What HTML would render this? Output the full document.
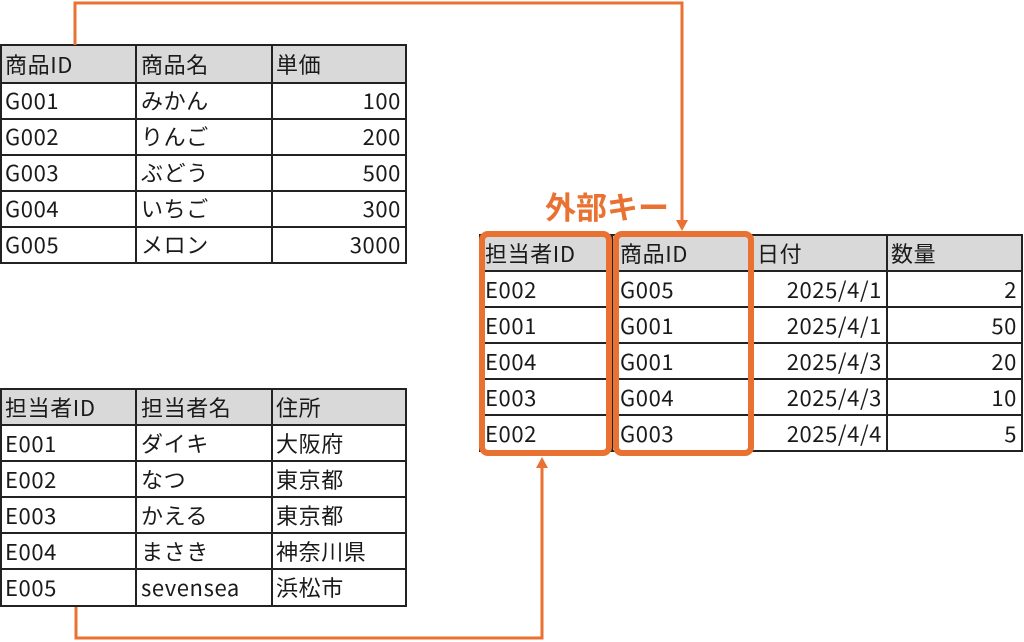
<!DOCTYPE html>
<html><head><meta charset="utf-8"><style>
html,body{margin:0;padding:0;background:#fff;width:1024px;height:642px;overflow:hidden}
text{font-family:"Noto Sans CJK JP","Liberation Sans",sans-serif;font-size:22px;letter-spacing:0.6px;fill:#1a1a1a}
</style></head><body>
<svg width="1024" height="642" xmlns="http://www.w3.org/2000/svg">
<g stroke="#222" stroke-width="2" fill="none">
<rect x="1" y="45" width="405" height="38" fill="#d9d9d9"/>
<rect x="1" y="45" width="405" height="218"/>
<path d="M1 83H406M1 119H406M1 155H406M1 191H406M1 227H406M136 45V263M272 45V263"/>
<rect x="1" y="389" width="405" height="36" fill="#d9d9d9"/>
<rect x="1" y="389" width="405" height="217"/>
<path d="M1 425H406M1 461H406M1 497H406M1 533H406M1 569H406M136 389V606M272 389V606"/>
<rect x="480" y="235" width="542" height="36" fill="#d9d9d9"/>
<rect x="480" y="235" width="542" height="216"/>
<path d="M480 271H1022M480 307H1022M480 343H1022M480 379H1022M480 415H1022M612 235V451M752 235V451M887 235V451"/>
</g>
<g>
<text x="5" y="73">商品ID</text><text x="141" y="73">商品名</text><text x="276" y="73">単価</text>
<text x="5" y="109">G001</text><text x="141" y="109">みかん</text><text x="401" y="109" text-anchor="end">100</text>
<text x="5" y="145">G002</text><text x="141" y="145">りんご</text><text x="401" y="145" text-anchor="end">200</text>
<text x="5" y="181">G003</text><text x="141" y="181">ぶどう</text><text x="401" y="181" text-anchor="end">500</text>
<text x="5" y="217">G004</text><text x="141" y="217">いちご</text><text x="401" y="217" text-anchor="end">300</text>
<text x="5" y="253">G005</text><text x="141" y="253">メロン</text><text x="401" y="253" text-anchor="end">3000</text>

<text x="5" y="416">担当者ID</text><text x="141" y="416">担当者名</text><text x="276" y="416">住所</text>
<text x="5" y="452">E001</text><text x="141" y="452">ダイキ</text><text x="276" y="452">大阪府</text>
<text x="5" y="488">E002</text><text x="141" y="488">なつ</text><text x="276" y="488">東京都</text>
<text x="5" y="524">E003</text><text x="141" y="524">かえる</text><text x="276" y="524">東京都</text>
<text x="5" y="560">E004</text><text x="141" y="560">まさき</text><text x="276" y="560">神奈川県</text>
<text x="5" y="596">E005</text><text x="141" y="596">sevensea</text><text x="276" y="596">浜松市</text>

<text x="485" y="262">担当者ID</text><text x="620" y="262">商品ID</text><text x="757" y="262">日付</text><text x="891" y="262">数量</text>
<text x="485" y="298">E002</text><text x="620" y="298">G005</text><text x="882" y="298" text-anchor="end">2025/4/1</text><text x="1017" y="298" text-anchor="end">2</text>
<text x="485" y="334">E001</text><text x="620" y="334">G001</text><text x="882" y="334" text-anchor="end">2025/4/1</text><text x="1017" y="334" text-anchor="end">50</text>
<text x="485" y="370">E004</text><text x="620" y="370">G001</text><text x="882" y="370" text-anchor="end">2025/4/3</text><text x="1017" y="370" text-anchor="end">20</text>
<text x="485" y="406">E003</text><text x="620" y="406">G004</text><text x="882" y="406" text-anchor="end">2025/4/3</text><text x="1017" y="406" text-anchor="end">10</text>
<text x="485" y="442">E002</text><text x="620" y="442">G003</text><text x="882" y="442" text-anchor="end">2025/4/4</text><text x="1017" y="442" text-anchor="end">5</text>
</g>
<g stroke="#E97132" fill="none">
<rect x="482" y="234" width="127" height="219" rx="6" stroke-width="6"/>
<rect x="616" y="234" width="135" height="219" rx="6" stroke-width="6"/>
<path d="M75 45V3H682V222" stroke-width="3"/>
<path d="M76 607V638H542V466" stroke-width="3"/>
</g>
<polygon points="676,220 688,220 682,231" fill="#E97132"/>
<polygon points="536,468 548,468 542,457" fill="#E97132"/>
<text x="545" y="219" style="font-size:31px;font-weight:bold;letter-spacing:0;fill:#E97132">外部キー</text>
</svg>
</body></html>
